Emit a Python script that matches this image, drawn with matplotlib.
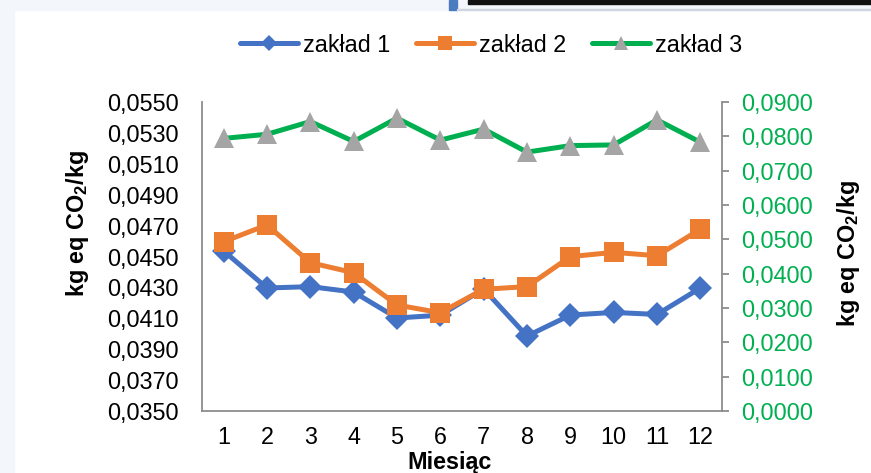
import matplotlib
matplotlib.use("Agg")
import matplotlib.pyplot as plt
from matplotlib.patches import Rectangle
from matplotlib.ticker import FuncFormatter

# monthly emission factors
months = list(range(1, 13))
zaklad1 = [0.04536, 0.04296, 0.04305, 0.04270, 0.04102, 0.04120,
           0.04290, 0.03985, 0.04121, 0.04138, 0.04125, 0.04296]
zaklad2 = [0.04596, 0.04704, 0.04460, 0.04395, 0.04186, 0.04136,
           0.04288, 0.04305, 0.04499, 0.04527, 0.04505, 0.04676]
zaklad3 = [0.0794, 0.0806, 0.0843, 0.0785, 0.0853, 0.0789,
           0.0821, 0.0754, 0.0773, 0.0775, 0.0848, 0.0783]
left_ticks = [0.035 + 0.002 * i for i in range(11)]
right_ticks = [0.01 * i for i in range(10)]
labels = ["zakład 1", "zakład 2", "zakład 3"]

plt.rcParams["font.family"] = ["Liberation Sans", "DejaVu Sans"]
plt.rcParams["mathtext.fontset"] = "custom"
plt.rcParams["mathtext.rm"] = "Liberation Sans"
plt.rcParams["mathtext.bf"] = "Liberation Sans:bold"

FS = 16.8
W, H = 871, 473
fig = plt.figure(figsize=(W / 100, H / 100), dpi=100)

# screenshot frame: light strip left/top, bits of a window in the top-right
def px_rect(x0, y0, x1, y1, color):
    fig.patches.append(Rectangle((x0 / W, 1 - y1 / H), (x1 - x0) / W, (y1 - y0) / H,
                                 transform=fig.transFigure, color=color, zorder=0))

px_rect(0, 0, 14, H, "#f3f6fa")
px_rect(0, 0, W, 10, "#f3f6fa")
px_rect(449, 0, 457, 10, "#4a7bc1")
px_rect(468, 0, W, 4, "#111111")
px_rect(457, 9, W, 10, "#cfd6e0")

ax = fig.add_axes([202 / W, 1 - 411 / H, 520 / W, 309 / H])
ax2 = ax.twinx()

comma = FuncFormatter(lambda v, p: f"{v:.4f}".replace(".", ","))

style = dict(lw=3.6, markeredgewidth=0, solid_capstyle="round", solid_joinstyle="round")
l1, = ax.plot(months, zaklad1, color="#4472c4", marker="D", ms=12, zorder=3, **style)
l2, = ax.plot(months, zaklad2, color="#ed7d31", marker="s", ms=14, zorder=4, **style)
l3, = ax2.plot(months, zaklad3, color="#00b050", marker="^", ms=14,
               markerfacecolor="#a5a5a5", zorder=3, **style)

ax.set_xlim(0.5, 12.5)
ax.set_ylim(0.035, 0.055)
ax.set_yticks(left_ticks)
ax.yaxis.set_major_formatter(comma)
ax.set_xticks(months)
ax2.set_ylim(0, 0.09)
ax2.set_yticks(right_ticks)
ax2.yaxis.set_major_formatter(comma)

for a in (ax, ax2):
    for s in a.spines.values():
        s.set_visible(False)
ax.spines["left"].set_visible(True)
ax.spines["bottom"].set_visible(True)
ax2.spines["right"].set_visible(True)
for s in (ax.spines["left"], ax.spines["bottom"], ax2.spines["right"]):
    s.set_color("#8c8c8c")
    s.set_linewidth(1.3)

ax.tick_params(axis="y", length=0, labelsize=FS, pad=17)
ax.tick_params(axis="x", length=0, labelsize=FS, pad=11)
ax2.tick_params(axis="y", length=5, width=1.3, color="#8c8c8c",
                labelsize=FS, labelcolor="#00b050", pad=9)

ylab = r"kg eq CO$_\mathbf{2}$/kg"
fig.text(450 / W, 1 - 462 / H, "Miesiąc", fontsize=FS, fontweight="bold",
         ha="center", va="center")
fig.text(77 / W, 1 - 224 / H, ylab, fontsize=FS, fontweight="bold",
         rotation=90, ha="center", va="center")
fig.text(848 / W, 1 - 254 / H, ylab, fontsize=FS, fontweight="bold",
         rotation=90, ha="center", va="center")

fig.legend([l1, l2, l3], labels, loc="center", bbox_to_anchor=(491 / W, 1 - 45 / H),
           ncol=3, frameon=False, fontsize=FS, handlelength=2.5, handletextpad=0.2,
           columnspacing=1.1, markerscale=0.7)

fig.savefig("out.png", dpi=100)
